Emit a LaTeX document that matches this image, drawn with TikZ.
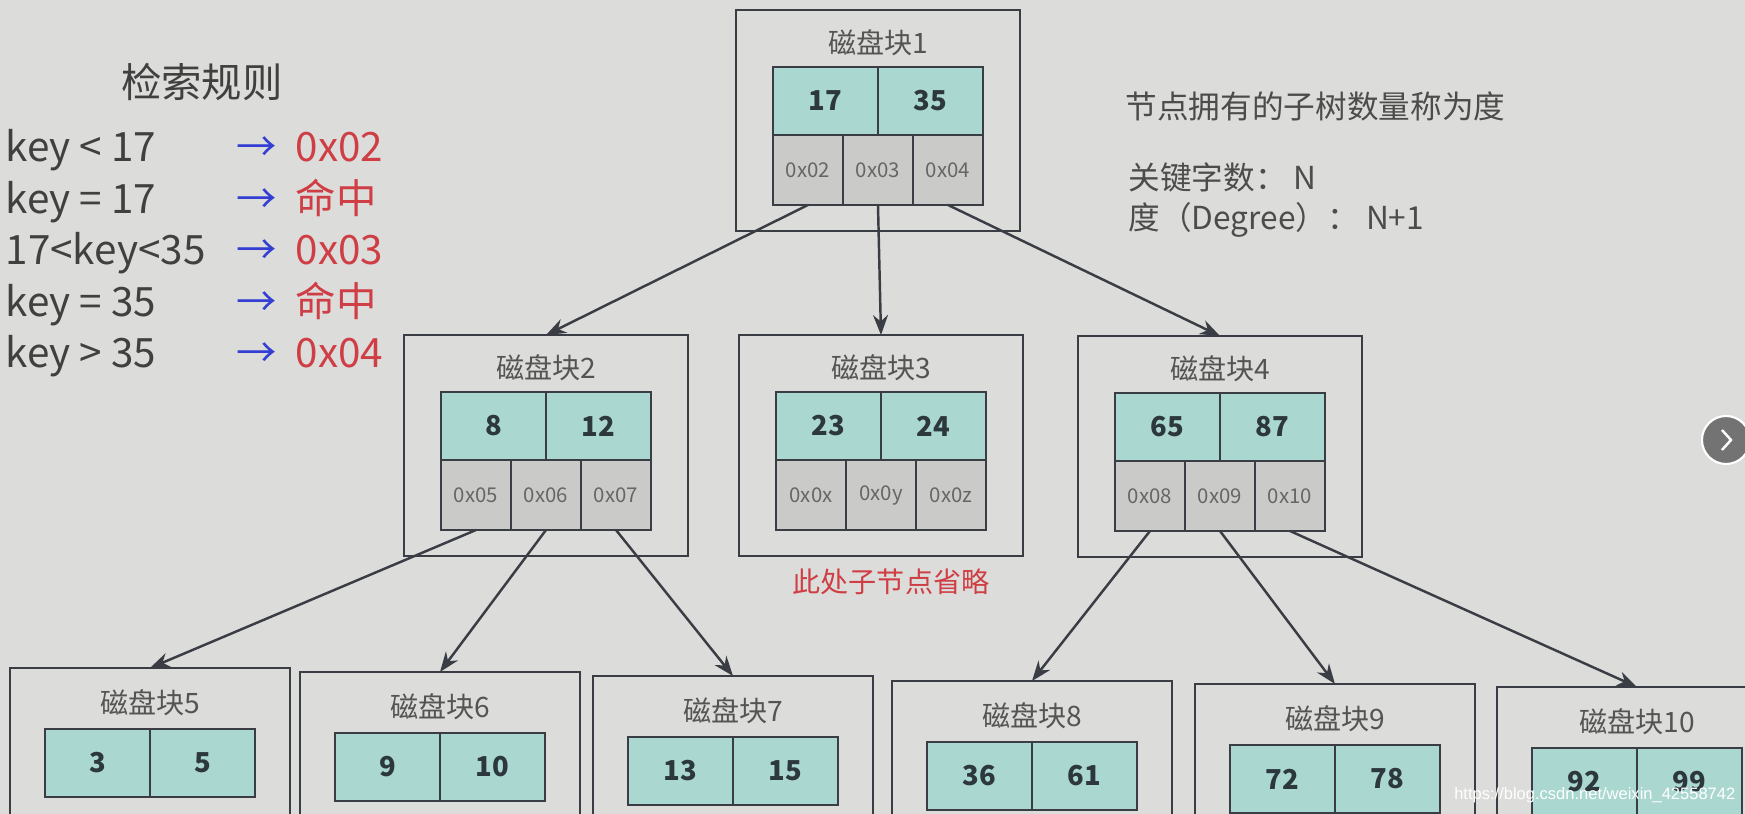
\documentclass[tikz,border=0pt]{standalone}
\usepackage{fontspec}
\setmainfont{Noto Sans CJK SC}
\newfontfamily\urlfont{Liberation Sans}
\usetikzlibrary{positioning,arrows.meta}

\definecolor{screengray}{RGB}{220,220,218}
\definecolor{keyteal}{RGB}{170,216,208}
\definecolor{ptrgray}{RGB}{202,202,200}
\definecolor{edgegray}{RGB}{58,62,68}
\definecolor{txtgray}{RGB}{84,84,84}
\definecolor{keyink}{RGB}{45,55,62}
\definecolor{hitred}{RGB}{206,62,68}
\definecolor{ptrblue}{RGB}{52,62,210}

\tikzset{
  blockbox/.style={draw=edgegray,line width=0.8pt,minimum width=2.84cm,minimum height=2.21cm,inner sep=0pt,outer sep=0pt},
  blocktitle/.style={text=txtgray,inner sep=0pt,font=\fontsize{8}{9}\selectfont},
  keycell/.style={draw=edgegray,line width=0.8pt,fill=keyteal,minimum width=1.05cm,minimum height=0.68cm,inner sep=0pt,outer sep=0pt,text=keyink,font=\fontsize{7.8}{9}\selectfont\bfseries},
  ptrcell/.style={draw=edgegray,line width=0.8pt,fill=ptrgray,minimum width=0.70cm,minimum height=0.70cm,inner sep=0pt,outer sep=0pt,text=black!60,font=\fontsize{5.8}{7}\selectfont},
  link/.style={->,draw=edgegray,line width=0.7pt},
  ruletext/.style={anchor=base west,inner sep=0pt,text=black!75,font=\fontsize{11.5}{13}\selectfont},
  notetext/.style={anchor=base west,inner sep=0pt,text=black!70,font=\fontsize{9}{11}\selectfont},
}

\begin{document}
\begin{tikzpicture}[>={Stealth[length=2mm,width=1.5mm]}]
\clip (0,0) rectangle (17.45,8.14);
\fill[screengray] (0,0) rectangle (17.45,8.14);

% root and second level
\foreach \n/\x/\y/\ka/\kb/\pa/\pb/\pc in {1/8.78/8.04/17/35/0x02/0x03/0x04,
    2/5.46/4.79/8/12/0x05/0x06/0x07, 3/8.81/4.79/23/24/0x0x/0x0y/0x0z,
    4/12.20/4.78/65/87/0x08/0x09/0x10}{
  \node[blockbox,anchor=north] (b\n) at (\x,\y) {};
  \node[blocktitle] (b\n-t) at ([yshift=-0.33cm]b\n.north) {磁盘块\n};
  \node[keycell,anchor=north east] (b\n-k1) at ([yshift=-0.57cm]b\n.north) {\ka};
  \node[keycell,right=0pt of b\n-k1] (b\n-k2) {\kb};
  \node[ptrcell,anchor=north] (b\n-p2) at ([yshift=-1.25cm]b\n.north) {\pb};
  \node[ptrcell,left=0pt of b\n-p2] (b\n-p1) {\pa};
  \node[ptrcell,right=0pt of b\n-p2] (b\n-p3) {\pc};
}

% leaves
\foreach \n/\x/\y/\ka/\kb in {5/1.50/1.46/3/5, 6/4.40/1.42/9/10, 7/7.33/1.38/13/15,
    8/10.32/1.33/36/61, 9/13.35/1.30/72/78, 10/16.37/1.27/92/99}{
  \node[blockbox,anchor=north,minimum width=2.80cm] (b\n) at (\x,\y) {};
  \node[blocktitle] (b\n-t) at ([yshift=-0.35cm]b\n.north) {磁盘块\n};
  \node[keycell,anchor=north east] (b\n-k1) at ([yshift=-0.61cm]b\n.north) {\ka};
  \node[keycell,right=0pt of b\n-k1] (b\n-k2) {\kb};
}

\draw[link] (b1-p1.south) -- (b2.north);
\draw[link] (b1-p2.south) -- (b3.north);
\draw[link] (b1-p3.south) -- (b4.north);
\draw[link] (b2-p1.south) -- (b5.north);
\draw[link] (b2-p2.south) -- (b6.north);
\draw[link] (b2-p3.south) -- (b7.north);
\draw[link] (b4-p1.south) -- (b8.north);
\draw[link] (b4-p2.south) -- (b9.north);
\draw[link] (b4-p3.south) -- (b10.north);

% search rules
\node[ruletext,anchor=base] (rules) at (2.02,7.16) {检索规则};
\foreach \i/\cond/\res in {0/key < 17/0x02, 1/key = 17/命中, 2/17<key<35/0x03,
    3/key = 35/命中, 4/key > 35/0x04}{
  \node[ruletext] (cond\i) at (0.05,{6.52-0.515*\i}) {\cond};
  \node[ruletext,text=ptrblue] (arr\i) at (2.36,{6.52-0.515*\i}) {→};
  \node[ruletext,text=hitred] (res\i) at (2.95,{6.52-0.515*\i}) {\res};
}

\node[notetext] (deg) at (11.25,6.95) {节点拥有的子树数量称为度};
\node[notetext] (keyn) at (11.28,6.24) {关键字数： N};
\node[notetext] (degn) at (11.28,5.84) {度（Degree）： N+1};

\node[text=hitred,font=\fontsize{8}{9}\selectfont] (omit) at (8.91,2.32) {此处子节点省略};

\node[anchor=base east,inner sep=0pt,text=white,font=\urlfont\fontsize{4.7}{5}\selectfont] (wm) at (17.36,0.14) {https://blog.csdn.net/weixin\_42558742};

% slide button at the right edge
\fill[black!55,draw=white,line width=0.6pt] (17.26,3.74) circle (0.24);
\draw[white,line width=0.7pt] (17.22,3.84) -- (17.31,3.74) -- (17.22,3.64);
\end{tikzpicture}
\end{document}
